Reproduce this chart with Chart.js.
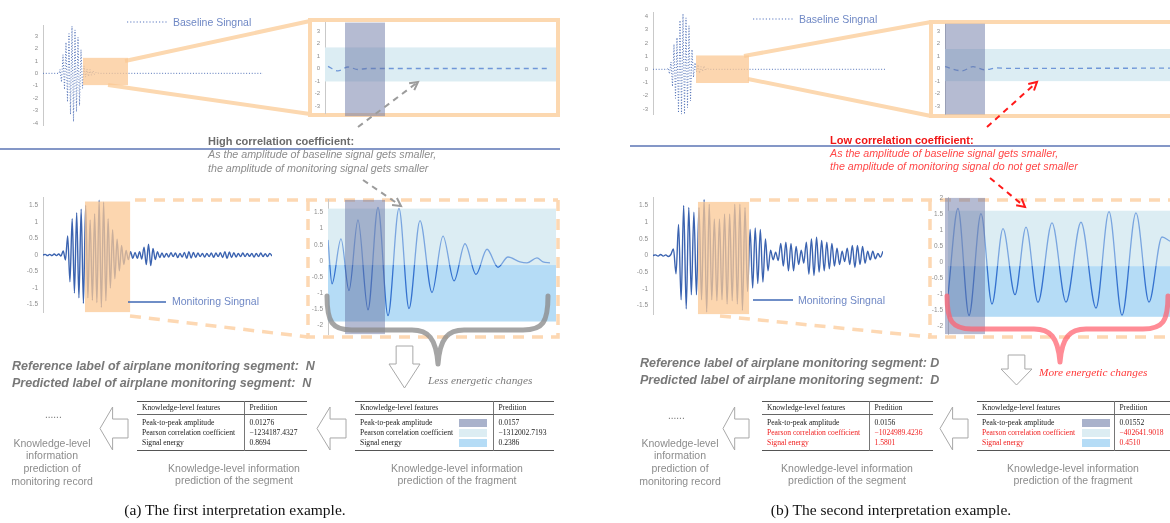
<!DOCTYPE html>
<html>
<head>
<meta charset="utf-8">
<title>Interpretation examples</title>
<script src="https://cdn.jsdelivr.net/npm/chart.js@4.4.1/dist/chart.umd.min.js"></script>
<style>
  html, body { margin: 0; padding: 0; background: #fff; }
  #page { position: relative; width: 1170px; height: 523px; overflow: hidden; font-family: "Liberation Sans", Arial, sans-serif; }
  #page canvas { position: absolute; z-index: 2; }
  svg.layer { position: absolute; left: 0; top: 0; }
  #under { z-index: 1; }
  #over { z-index: 3; }
  .t { position: absolute; white-space: nowrap; z-index: 4; line-height: 1; }
  .legend { font-size: 10.5px; color: #6f88c5; }
  .head { font-size: 11px; font-weight: bold; color: #6b6b6b; }
  .note { font-size: 10.7px; font-style: italic; color: #8c8c8c; }
  .head.red { color: #f01515; }
  .note.red { color: #ff4848; }
  .change { font-family: "Liberation Serif", serif; font-style: italic; font-size: 11.3px; color: #7a7a7a; }
  .change.red { color: #ff3838; }
  .label { font-size: 12.5px; font-weight: bold; font-style: italic; color: #787878; }
  .dots { font-size: 10px; color: #777; }
  .cap { font-size: 10.5px; color: #8c8c8c; text-align: center; line-height: 12.7px; transform: translateX(-50%); }
  .caption { font-family: "Liberation Serif", serif; font-size: 15.5px; color: #111; transform: translateX(-50%); }
  table.kt { position: absolute; z-index: 4; border-collapse: collapse; table-layout: fixed;
    font-family: "Liberation Serif", serif; font-size: 7.6px; color: #1a1a1a;
    border-top: 1.5px solid #555; border-bottom: 1.5px solid #555; }
  table.kt td { box-sizing: border-box; padding: 0 0 0 5px; height: 10px; line-height: 10px; white-space: nowrap; overflow: visible; }
  table.kt tr.hd td { height: 13px; border-bottom: 0.8px solid #666; }
  table.kt tr.first td { height: 13px; padding-top: 3px; }
  table.kt tr.last td { height: 12px; padding-bottom: 2px; }
  table.kt td.v { border-left: 0.8px solid #777; }
  table.kt td.s { padding-left: 0; }
  table.kt div.sw { width: 28px; height: 8px; }
  table.kt .red { color: #f02020; }
</style>
</head>
<body>
<div id="page">
  <svg id="under" class="layer" width="1170" height="523">
    <g stroke="#fcd8b0" stroke-width="4" fill="none">
      <line x1="125" y1="61" x2="310" y2="21"/>
      <line x1="108" y1="85" x2="310" y2="114"/>
      <rect x="310" y="20" width="248" height="95"/>
      <line x1="744" y1="56" x2="931" y2="22"/>
      <line x1="748" y1="79" x2="931" y2="116"/>
      <rect x="931" y="22" width="252" height="94"/>
    </g>
    <g stroke="#fdd8b3" stroke-width="3.5" fill="none" stroke-dasharray="11 8">
      <line x1="135" y1="200" x2="558" y2="200"/>
      <line x1="130" y1="316" x2="308" y2="337"/>
      <polyline points="308,200 308,337 558,337 558,200"/>
      <line x1="750" y1="200" x2="1175" y2="200"/>
      <line x1="720" y1="316" x2="930" y2="337"/>
      <polyline points="930,200 930,337 1175,337"/>
    </g>
  </svg>

  <canvas id="baseA"></canvas>
  <canvas id="baseFragA"></canvas>
  <canvas id="monA"></canvas>
  <canvas id="monFragA"></canvas>
  <canvas id="baseB"></canvas>
  <canvas id="baseFragB"></canvas>
  <canvas id="monB"></canvas>
  <canvas id="monFragB"></canvas>

  <svg id="over" class="layer" width="1170" height="523">
    <line x1="0" y1="149" x2="560" y2="149" stroke="#5b75b5" stroke-width="1.3"/>
    <line x1="630" y1="146" x2="1170" y2="146" stroke="#5b75b5" stroke-width="1.3"/>
    <g stroke="#5b78c0" stroke-width="1.2" stroke-dasharray="1.2 2">
      <line x1="127" y1="22" x2="167" y2="22"/>
      <line x1="753" y1="19" x2="793" y2="19"/>
    </g>
    <g stroke="#3f68b5" stroke-width="1.3">
      <line x1="128" y1="302" x2="166" y2="302"/>
      <line x1="753" y1="300" x2="793" y2="300"/>
    </g>
  </svg>

  <div class="t legend" style="left:173px;top:17px">Baseline Singnal</div>
  <div class="t legend" style="left:799px;top:14px">Baseline Singnal</div>
  <div class="t legend" style="left:172px;top:296px">Monitoring Singnal</div>
  <div class="t legend" style="left:798px;top:295px">Monitoring Singnal</div>

  <div class="t head" style="left:208px;top:135.5px">High correlation coefficient:</div>
  <div class="t note" style="left:208px;top:149px">As the amplitude of baseline signal gets smaller,</div>
  <div class="t note" style="left:208px;top:162.5px">the amplitude of monitoring signal gets smaller</div>
  <div class="t head red" style="left:830px;top:134.5px">Low correlation coefficient:</div>
  <div class="t note red" style="left:830px;top:147.5px">As the amplitude of baseline signal gets smaller,</div>
  <div class="t note red" style="left:830px;top:160.5px">the amplitude of monitoring signal do not get smaller</div>

  <div class="t change" style="left:428px;top:375px">Less energetic changes</div>
  <div class="t change red" style="left:1039px;top:367px">More energetic changes</div>

  <div class="t label" style="left:12px;top:359.5px">Reference label of airplane monitoring segment:&nbsp; N</div>
  <div class="t label" style="left:12px;top:376.5px">Predicted label of airplane monitoring segment:&nbsp; N</div>
  <div class="t label" style="left:640px;top:357px">Reference label of airplane monitoring segment: D</div>
  <div class="t label" style="left:640px;top:374px">Predicted label of airplane monitoring segment:&nbsp; D</div>

  <div class="t dots" style="left:45px;top:410px">......</div>
  <div class="t dots" style="left:668px;top:411px">......</div>

  <div class="t cap" style="left:52px;top:436.5px">Knowledge-level<br>information<br>prediction of<br>monitoring record</div>
  <div class="t cap" style="left:234px;top:461.5px">Knowledge-level information<br>prediction of the segment</div>
  <div class="t cap" style="left:457px;top:461.5px">Knowledge-level information<br>prediction of the fragment</div>
  <div class="t cap" style="left:680px;top:436.5px">Knowledge-level<br>information<br>prediction of<br>monitoring record</div>
  <div class="t cap" style="left:847px;top:461.5px">Knowledge-level information<br>prediction of the segment</div>
  <div class="t cap" style="left:1073px;top:461.5px">Knowledge-level information<br>prediction of the fragment</div>

  <div class="t caption" style="left:235px;top:502px">(a) The first interpretation example.</div>
  <div class="t caption" style="left:891px;top:502px">(b) The second interpretation example.</div>
</div>

<script>
// ---------- data ----------

// y tick labels
const baseTicksA = [3, 2, 1, 0, -1, -2, -3, -4];
const baseTicksB = [4, 3, 2, 1, 0, -1, -2, -3];
const fragBaseTicks = [3, 2, 1, 0, -1, -2, -3];
const monTicks = [1.5, 1, 0.5, 0, -0.5, -1, -1.5];
const fragMonTicksA = [1.5, 1, 0.5, 0, -0.5, -1, -1.5, -2];
const fragMonTicksB = [2, 1.5, 1, 0.5, 0, -0.5, -1, -1.5, -2];

// baseline records, [sample, amplitude]
const baselineA = [
  [0, 0], [16, 0], [17, 0.3], [18.5, -0.7], [20, 1.5], [21.5, -1.3], [23, 2.5], [24.5, -2.3],
  [26, 3.2], [27.5, -3.3], [29, 3.8], [30.5, -3.9], [32, 3.5], [33.5, -3.1], [35, 2.9],
  [36.5, -2.6], [38, 1.9], [39.5, -1.2], [41, 0.6], [42.5, -0.3], [44, 0.35], [45.5, -0.25],
  [47, 0.3], [48.5, -0.15], [50, 0.2], [51.5, -0.1], [53, 0.08], [56, 0], [220, 0],
];
const baselineB = [
  [0, 0], [14, 0], [15, 0.1], [16.5, -0.35], [18, 0.55], [19.5, -1.3], [21, 1.9], [22.5, -2.2],
  [24, 2.4], [25.5, -3.3], [27, 3.7], [28.5, -3.4], [30, 4.2], [31.5, -3.4], [33, 3.9],
  [34.5, -2.9], [36, 3.3], [37.5, -2.4], [39, 1.5], [40.5, -0.6], [42, 0.5], [43.5, -0.2],
  [45, 0.35], [46.5, -0.3], [48, 0.2], [49.5, -0.15], [51, 0.25], [52.5, -0.1], [54, 0.1],
  [56, 0], [232, 0],
];

// zoomed baseline fragment, [sample, amplitude]
const baselineFragA = [[3, 0.19], [13, -0.17], [23, 0.14], [33, -0.06], [42, 0.02], [120, 0.02], [225, 0.02]];
const baselineFragB = [[0, 0.15], [17, -0.18], [28, 0.15], [40, -0.1], [52, 0.06], [62, 0.02], [225, 0.03]];

// monitoring records, one value per half cycle
const monitoringA = [
  0, 0.02, -0.02, 0.02, -0.02, 0.03, -0.02, 0.03, -0.03,
  0.12, -0.15, 0.58, -0.81, 1.1, -1.15, 1.28, -1.3, 1.39, -1.47, 1.51, -1.3, 1.06, -1.37,
  1.25, -1.44, 1.66, -1.59, 1.6, -1.39, 1.1, -1.0, 0.77, -0.72, 0.48, -0.48, 0.29, -0.29,
  0.14, -0.14, 0.1, -0.1, 0.08, -0.1, 0.1, -0.12, 0.24, -0.29, 0.33, -0.32, 0.2, -0.14, 0.1, -0.08,
  0.06, -0.07, 0.05, -0.06, 0.07, -0.05, 0.06, -0.08, 0.05, -0.06,
  0.08, -0.1, 0.1, -0.09, 0.08, -0.07, 0.06, -0.05, 0.05, -0.06,
  0.05, -0.05, 0.06, -0.07, 0.06, -0.05, 0.07, -0.08, 0.1, -0.1,
  0.09, -0.08, 0.07, -0.06, 0.05, -0.05, 0.06, -0.05, 0.05, -0.04,
  0.05, -0.06, 0.05, -0.05, 0.06, -0.05, 0.04, -0.05, 0.05, -0.03,
];
const monitoringB = [
  0, 0.02, -0.02, 0.03, -0.02, 0.02, -0.03, 0.03,
  0.2, -0.55, 0.93, -1.33, 1.5, -1.6, 1.44, -1.18, 1.3, -1.18, 1.44, -1.33, 1.68, -1.7,
  1.54, -1.33, 1.1, -1.36, 1.1, -1.33, 1.25, -1.46, 1.25, -1.36, 1.54, -1.46, 1.54, -1.65,
  1.44, -1.08, 0.78, -0.98, 0.83, -0.84, 0.78, -0.8, 0.5, -0.46, 0.16, -0.13, 0.1, -0.15,
  0.36, -0.32, 0.4, -0.46, 0.36, -0.46, 0.27, -0.27, 0.16, -0.23, 0.4, -0.56, 0.5, -0.6,
  0.55, -0.5, 0.45, -0.46, 0.4, -0.4, 0.36, -0.32, 0.22, -0.27, 0.13, -0.18, 0.22, -0.27,
  0.3, -0.36, 0.3, -0.27, 0.27, -0.23, 0.13, -0.13, 0.13, -0.1, 0.06, -0.05, 0.13,
];

// zoomed monitoring fragment, [sample, amplitude] at the turning points
const monitoringFragA = [
  [0, 0.65], [4, -0.71], [13, 0.68], [21, -0.92], [30, 1.27], [40, -1.52], [50, 1.66],
  [60, -1.7], [71, 1.63], [81, -1.48], [92, 1.25], [104, -0.98], [115, 0.77], [126, -0.62],
  [137, 0.53], [148, -0.42], [159, 0.36], [170, -0.2], [180, 0.12], [192, -0.03],
  [199, -0.06], [209, 0.09], [215, -0.03], [222, -0.06],
];
const monitoringFragB = [
  [0, -1.03], [10, 1.67], [21, -1.67], [33, 1.51], [44, -1.31], [55, 1.04], [67, -1.02],
  [78, 1.09], [90, -1.26], [104, 1.22], [118, -1.25], [133, 1.24], [148, -1.44], [161, 1.57],
  [174, -1.66], [188, 1.53], [201, -1.25], [214, 0.78], [222, 0.65],
];

// highlighted windows: [from, to] in samples, [low, high] in amplitude
const baseSegA = [40, 85], baseSegAmpA = [-0.95, 1.25];
const monSegA = [18.7, 38.8], monSegAmpA = [-1.73, 1.62];
const baseSegB = [43, 96], baseSegAmpB = [-1.04, 1.05];
const monSegB = [17.6, 37.6], monSegAmpB = [-1.76, 1.61];
const baseFragWinA = [20, 60], monFragWinA = [17, 57];
const baseFragWinB = [0, 40], monFragWinB = [-3, 37];
const baseBandA = [-1.02, 1.71], baseBandB = [-1.01, 1.57];
const monBandHighA = [-0.13, 1.62], monBandLowA = [-1.88, -0.13];
const monBandHighB = [-0.13, 1.6], monBandLowB = [-1.71, -0.13];

// knowledge-level feature tables
const featureNames = ["Peak-to-peak amplitude", "Pearson correlation coefficient", "Signal energy"];
const segPredA = ["0.01276", "\u22121234187.4327", "0.8694"];
const fragPredA = ["0.0157", "\u22121312002.7193", "0.2386"];
const segPredB = ["0.0156", "\u22121024989.4236", "1.5801"];
const fragPredB = ["0.01552", "\u2212402641.9018", "0.4510"];

// ---------- colours ----------
const ORANGE = "rgba(251,200,148,0.75)";
const BAR = "rgba(100,112,160,0.48)";
const BAND_HI = "#dcedf3";
const BAND_LO = "#b5dcf6";
const SWATCHES = ["#a9b2cb", BAND_HI, BAND_LO];

Chart.defaults.font.family = '"Liberation Sans", Arial, sans-serif';

function boxLayer(under, over) {
  const paint = (chart, list) => {
    const { ctx, scales: { x, y } } = chart;
    list.forEach((b) => {
      const l = x.getPixelForValue(b.x[0]), r = x.getPixelForValue(b.x[1]);
      const t = y.getPixelForValue(b.y[1]), btm = y.getPixelForValue(b.y[0]);
      ctx.save();
      ctx.fillStyle = b.color;
      ctx.fillRect(l, t, r - l, btm - t);
      ctx.restore();
    });
  };
  return {
    id: "boxLayer",
    beforeDatasetsDraw(chart) { paint(chart, under); },
    afterDatasetsDraw(chart) { paint(chart, over); },
  };
}

function lineSet(points, color, width, dash, smooth) {
  return {
    data: points.map(([x, y]) => ({ x, y })),
    borderColor: color,
    borderWidth: width,
    borderDash: dash,
    pointRadius: 0,
    fill: false,
    tension: smooth ? 0.4 : 0,
    cubicInterpolationMode: smooth ? "monotone" : "default",
  };
}

// lighter stroke above the band split, darker below it
function splitColor(split) {
  return (context) => {
    const { chart } = context;
    const { ctx, chartArea, scales } = chart;
    if (!chartArea || !scales.y) return "#4a82d4";
    const ys = scales.y.getPixelForValue(split);
    const f = Math.min(1, Math.max(0, (ys - chartArea.top) / (chartArea.bottom - chartArea.top)));
    const g = ctx.createLinearGradient(0, chartArea.top, 0, chartArea.bottom);
    g.addColorStop(0, "rgba(80,135,215,0.7)");
    g.addColorStop(f, "rgba(80,135,215,0.7)");
    g.addColorStop(Math.min(1, f + 0.001), "rgba(30,95,200,0.85)");
    g.addColorStop(1, "rgba(30,95,200,0.85)");
    return g;
  };
}

// area = chart area on the page; axisW = room kept for the y labels
function signalChart(id, area, axisW, yRange, yTicks, xRange, dataset, under, over, tickSize) {
  const pad = 6;
  const cv = document.getElementById(id);
  cv.width = area.w + axisW + pad;
  cv.height = area.h + pad * 2;
  cv.style.left = (area.x - axisW) + "px";
  cv.style.top = (area.y - pad) + "px";
  return new Chart(cv, {
    type: "line",
    data: { datasets: [dataset] },
    options: {
      responsive: false,
      animation: false,
      events: [],
      layout: { padding: { top: pad, bottom: pad, left: 0, right: pad } },
      plugins: { legend: { display: false }, tooltip: { enabled: false } },
      scales: {
        x: { type: "linear", display: false, min: xRange[0], max: xRange[1] },
        y: {
          min: yRange[0],
          max: yRange[1],
          afterFit: (s) => { s.width = axisW; },
          afterBuildTicks: (s) => { s.ticks = yTicks.map((v) => ({ value: v })); },
          grid: { display: false, drawTicks: false },
          border: { display: true, color: "#c9c9c9", width: 1 },
          ticks: {
            color: "#8d8d8d",
            padding: 5,
            font: { size: tickSize },
            callback: (v) => String(v),
          },
        },
      },
    },
    plugins: [boxLayer(under, over)],
  });
}

const asPairs = (vals) => vals.map((v, i) => [i, v]);

// (a) first example
signalChart("baseA", { x: 43, y: 23, w: 220, h: 105 }, 30, [-4.2, 3.85], baseTicksA, [0, 220],
  lineSet(baselineA, "#5574b8", 1, [1, 1.8], false),
  [], [{ x: baseSegA, y: baseSegAmpA, color: ORANGE }], 6);

signalChart("baseFragA", { x: 325, y: 20, w: 231, h: 96 }, 20, [-3.58, 3.7], fragBaseTicks, [0, 231],
  lineSet(baselineFragA, "#6f97d8", 1.3, [5, 4], true),
  [{ x: [0, 231], y: baseBandA, color: BAND_HI }],
  [{ x: baseFragWinA, y: [-3.8, 3.7], color: BAR }], 6);

signalChart("monA", { x: 43, y: 195, w: 229, h: 120 }, 32, [-1.73, 1.73], monTicks, [0, monitoringA.length - 1],
  lineSet(asPairs(monitoringA), "#3b63b0", 1.4, [], true),
  [], [{ x: monSegA, y: monSegAmpA, color: ORANGE }], 6.5);

signalChart("monFragA", { x: 328, y: 197, w: 228, h: 140 }, 24, [-2.27, 1.89], fragMonTicksA, [0, 228],
  lineSet(monitoringFragA, splitColor(monBandHighA[0]), 1.3, [], true),
  [{ x: [0, 228], y: monBandHighA, color: BAND_HI }, { x: [0, 228], y: monBandLowA, color: BAND_LO }],
  [{ x: monFragWinA, y: [-2.27, 1.89], color: BAR }], 6.5);

// (b) second example
signalChart("baseB", { x: 653, y: 10, w: 232, h: 107 }, 30, [-3.42, 4.3], baseTicksB, [0, 232],
  lineSet(baselineB, "#5574b8", 1, [1, 1.8], false),
  [], [{ x: baseSegB, y: baseSegAmpB, color: ORANGE }], 6);

signalChart("baseFragB", { x: 945, y: 22, w: 225, h: 95 }, 20, [-3.68, 3.53], fragBaseTicks, [0, 225],
  lineSet(baselineFragB, "#6f97d8", 1.3, [5, 4], true),
  [{ x: [0, 225], y: baseBandB, color: BAND_HI }],
  [{ x: baseFragWinB, y: [-3.68, 3.6], color: BAR }], 6);

signalChart("monB", { x: 653, y: 195, w: 230, h: 122 }, 32, [-1.76, 1.73], monTicks, [0, monitoringB.length - 1],
  lineSet(asPairs(monitoringB), "#3b63b0", 1.4, [], true),
  [], [{ x: monSegB, y: monSegAmpB, color: ORANGE }], 6.5);

signalChart("monFragB", { x: 948, y: 195, w: 222, h: 142 }, 24, [-2.25, 2.0], fragMonTicksB, [0, 222],
  lineSet(monitoringFragB, splitColor(monBandHighB[0]), 1.3, [], true),
  [{ x: [0, 222], y: monBandHighB, color: BAND_HI }, { x: [0, 222], y: monBandLowB, color: BAND_LO }],
  [{ x: monFragWinB, y: [-2.25, 2.0], color: BAR }], 6.5);

// ---------- tables ----------
const page = document.getElementById("page");

function featureTable(left, top, cols, preds, redRows, swatches) {
  const tb = document.createElement("table");
  tb.className = "kt";
  tb.style.left = left + "px";
  tb.style.top = top + "px";
  tb.style.width = cols.reduce((a, b) => a + b, 0) + "px";
  const head = tb.insertRow();
  head.className = "hd";
  const h1 = head.insertCell();
  h1.textContent = "Knowledge-level features";
  h1.style.width = cols[0] + "px";
  if (swatches) {
    const hs = head.insertCell();
    hs.className = "s";
    hs.style.width = cols[1] + "px";
  }
  const h2 = head.insertCell();
  h2.textContent = "Predition";
  h2.className = "v";
  h2.style.width = cols[cols.length - 1] + "px";
  featureNames.forEach((name, i) => {
    const r = tb.insertRow();
    if (i === 0) r.className = "first";
    if (i === featureNames.length - 1) r.className = "last";
    const c1 = r.insertCell();
    c1.textContent = name;
    if (swatches) {
      const cs = r.insertCell();
      cs.className = "s";
      const d = document.createElement("div");
      d.className = "sw";
      d.style.background = swatches[i];
      cs.appendChild(d);
    }
    const c2 = r.insertCell();
    c2.textContent = preds[i];
    c2.className = "v";
    if (redRows.includes(i)) {
      c1.classList.add("red");
      c2.classList.add("red");
    }
  });
  page.appendChild(tb);
}

featureTable(137, 401, [107, 63], segPredA, [], null);
featureTable(355, 401, [104, 34, 61], fragPredA, [], SWATCHES);
featureTable(762, 401, [107, 64], segPredB, [1, 2], null);
featureTable(977, 401, [105, 32, 66], fragPredB, [1, 2], SWATCHES);

// ---------- arrows and braces ----------
const NS = "http://www.w3.org/2000/svg";
const over = document.getElementById("over");

function svgEl(tag, attrs) {
  const e = document.createElementNS(NS, tag);
  for (const k in attrs) e.setAttribute(k, attrs[k]);
  over.appendChild(e);
  return e;
}

function dashedArrow(x1, y1, x2, y2, color) {
  svgEl("line", { x1, y1, x2, y2, stroke: color, "stroke-width": 2, "stroke-dasharray": "6 5" });
  const a = Math.atan2(y2 - y1, x2 - x1), L = 9, s = 0.5;
  const p = [
    [x2 - L * Math.cos(a - s), y2 - L * Math.sin(a - s)],
    [x2, y2],
    [x2 - L * Math.cos(a + s), y2 - L * Math.sin(a + s)],
  ];
  svgEl("polyline", { points: p.map((q) => q.join(",")).join(" "), stroke: color, "stroke-width": 2, fill: "none" });
}

function hollowLeft(x0, x1, y0, y1) {
  const yc = (y0 + y1) / 2, xh = x0 + (x1 - x0) * 0.45, s = (y1 - y0) * 0.22;
  const p = [[x0, yc], [xh, y0], [xh, yc - s], [x1, yc - s], [x1, yc + s], [xh, yc + s], [xh, y1]];
  svgEl("polygon", { points: p.map((q) => q.join(",")).join(" "), fill: "#fff", stroke: "#a8a8a8", "stroke-width": 1 });
}

function hollowDown(x0, x1, y0, yh, y1) {
  const xc = (x0 + x1) / 2, s = (x1 - x0) * 0.27;
  const p = [[xc - s, y0], [xc + s, y0], [xc + s, yh], [x1, yh], [xc, y1], [x0, yh], [xc - s, yh]];
  svgEl("polygon", { points: p.map((q) => q.join(",")).join(" "), fill: "#fff", stroke: "#a8a8a8", "stroke-width": 1 });
}

function brace(xl, xr, yTop, yMid, xTip, yTip, color) {
  const d =
    `M ${xl} ${yTop} C ${xl} ${yMid - 8}, ${xl + 5} ${yMid}, ${xl + 25} ${yMid} L ${xTip - 26} ${yMid} ` +
    `C ${xTip - 10} ${yMid}, ${xTip - 2} ${yMid + 8}, ${xTip} ${yTip} ` +
    `M ${xr} ${yTop} C ${xr} ${yMid - 8}, ${xr - 5} ${yMid}, ${xr - 25} ${yMid} L ${xTip + 26} ${yMid} ` +
    `C ${xTip + 10} ${yMid}, ${xTip + 2} ${yMid + 8}, ${xTip} ${yTip}`;
  svgEl("path", { d, fill: "none", stroke: color, "stroke-width": 5, "stroke-linecap": "round" });
}

dashedArrow(358, 127, 418, 82, "#9c9c9c");
dashedArrow(363, 180, 401, 206, "#9c9c9c");
dashedArrow(987, 127, 1037, 82, "#ff1a1a");
dashedArrow(990, 178, 1025, 207, "#ff1a1a");

brace(327, 548, 296, 330, 438, 364, "rgba(140,140,140,0.78)");
brace(947, 1168, 296, 329, 1060, 362, "rgba(255,95,110,0.72)");

hollowDown(389, 420, 346, 364, 388);
hollowDown(1001, 1032, 355, 369, 385);
hollowLeft(100, 128, 407, 450);
hollowLeft(317, 346, 407, 450);
hollowLeft(723, 749, 407, 450);
hollowLeft(940, 968, 407, 450);
</script>
</body>
</html>
